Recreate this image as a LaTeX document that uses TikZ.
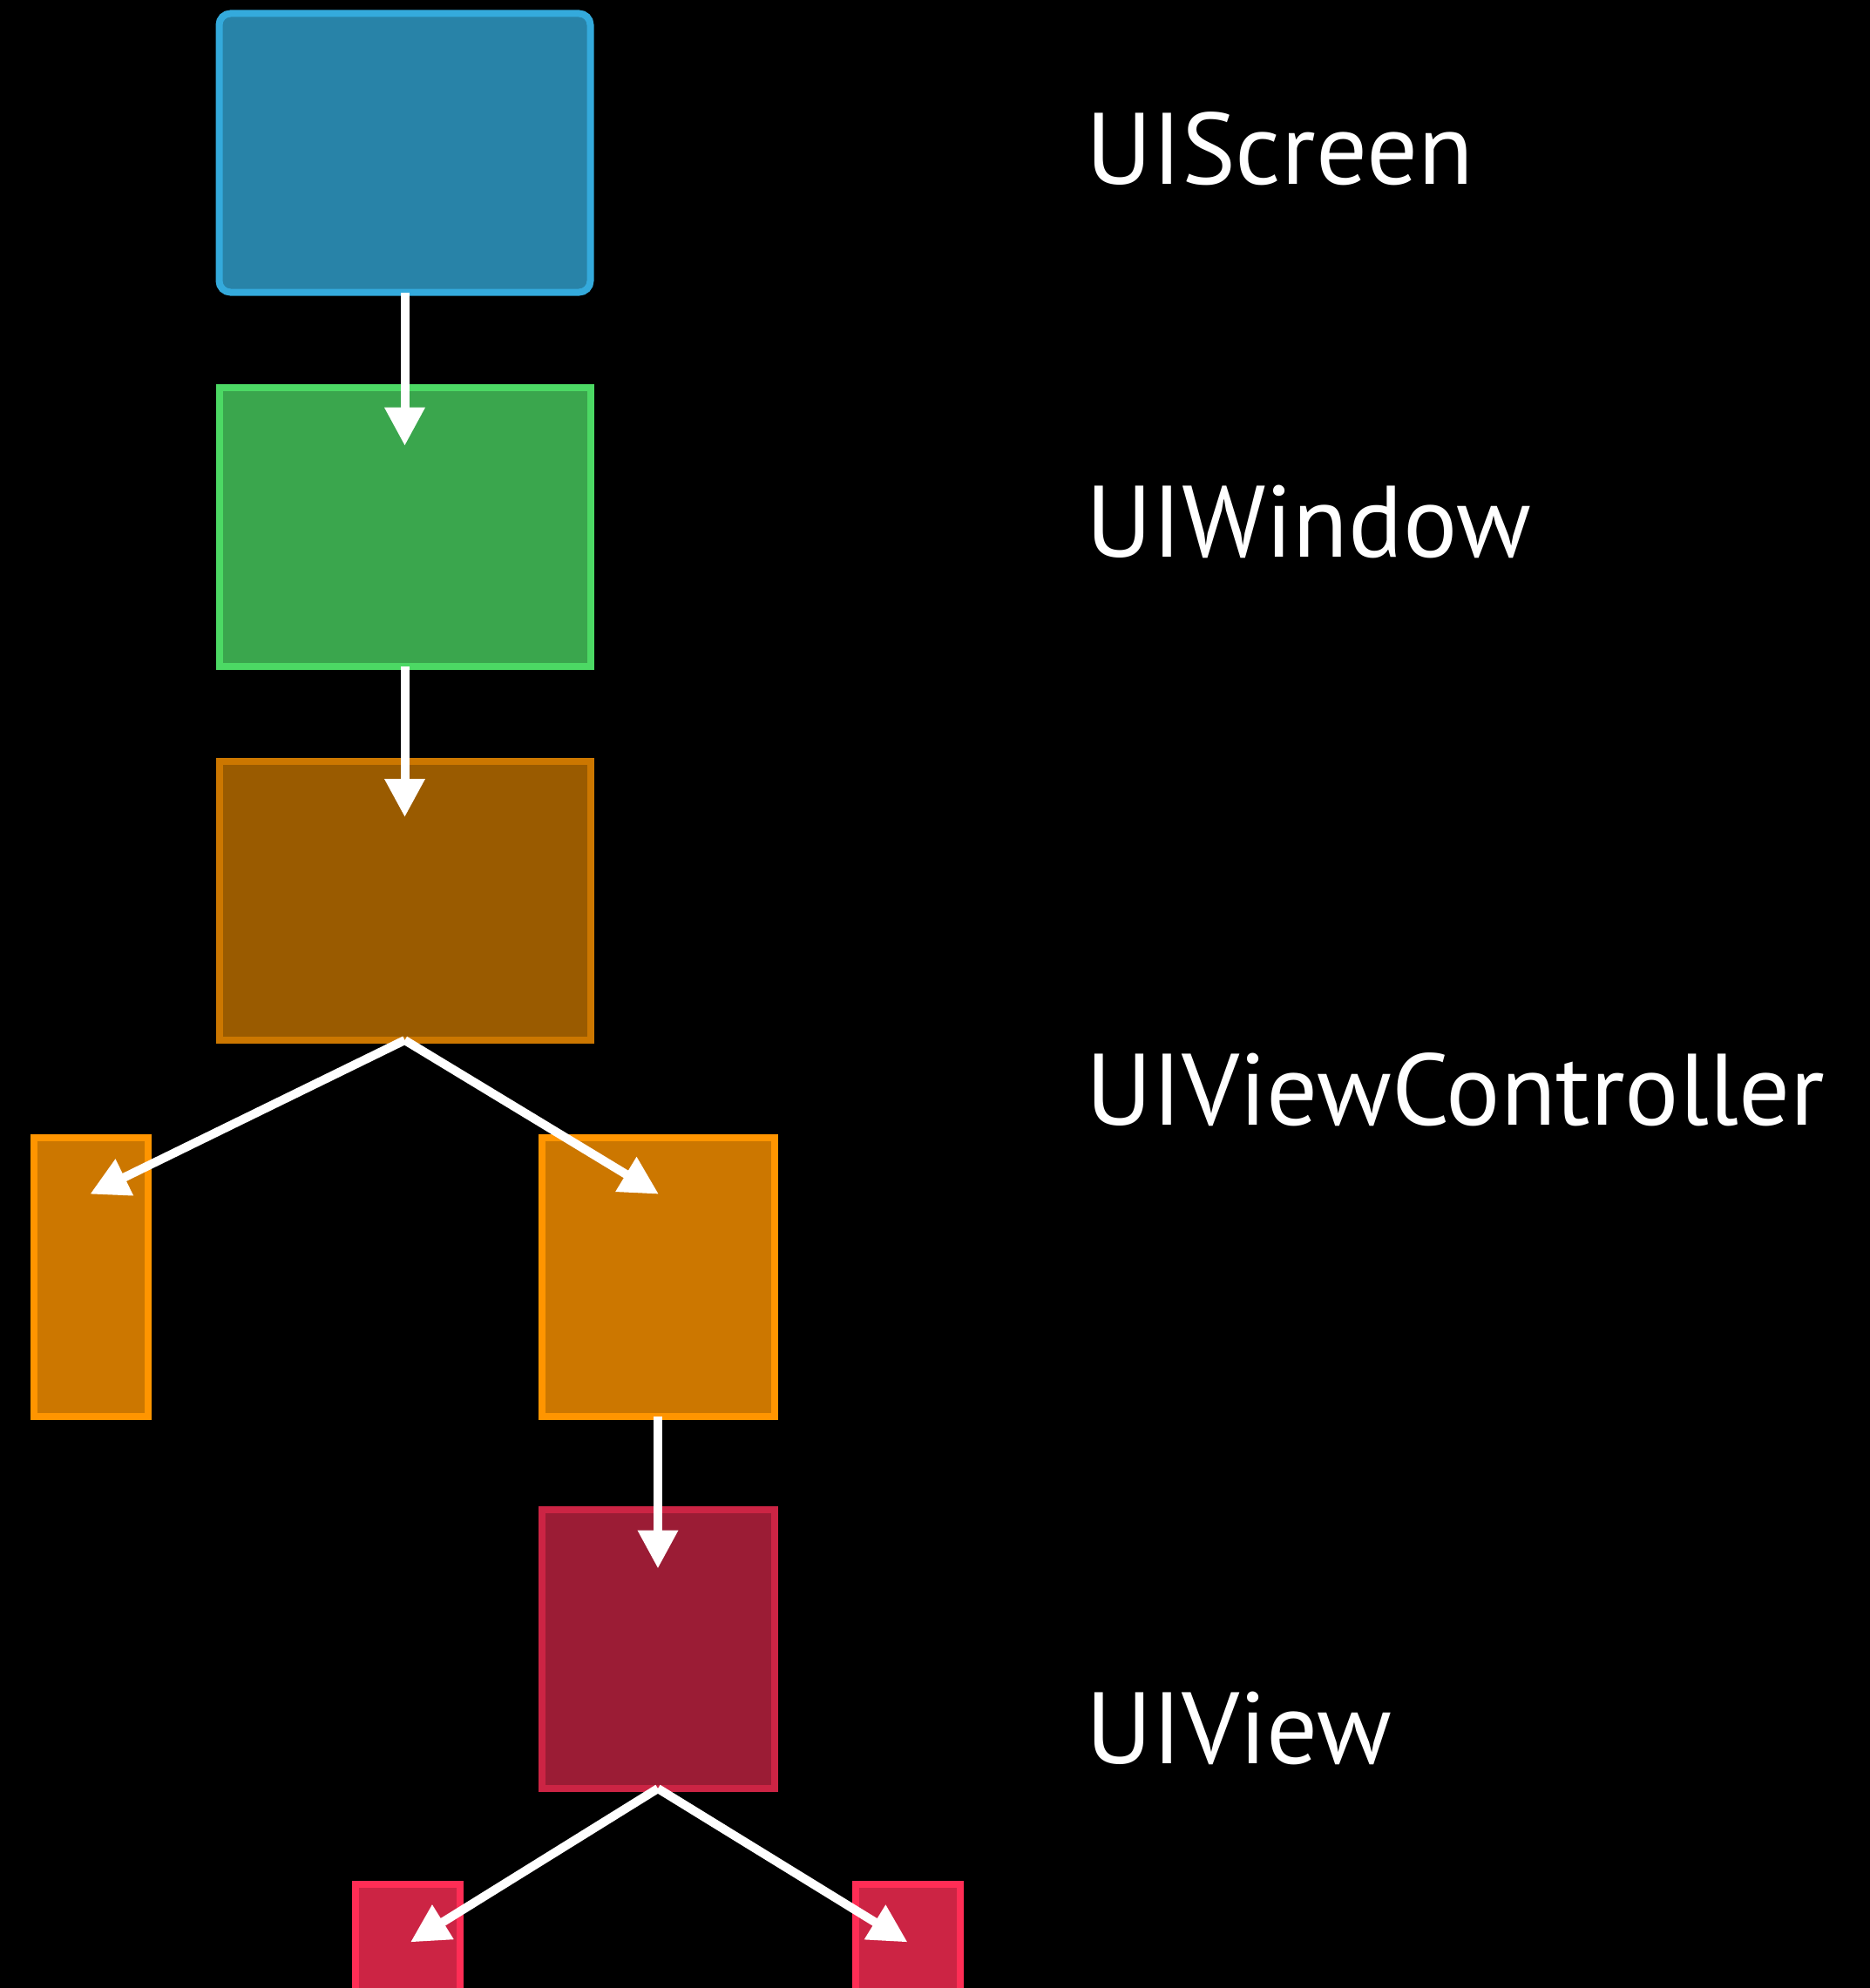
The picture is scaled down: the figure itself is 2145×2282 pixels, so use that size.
\documentclass[tikz,border=0pt]{standalone}
\usepackage{fontspec}
\setmainfont{PT Sans}
\usetikzlibrary{arrows.meta,calc}
\definecolor{screenfill}{HTML}{2883A8}
\definecolor{screenline}{HTML}{34AADC}
\definecolor{windowfill}{HTML}{3AA64D}
\definecolor{windowline}{HTML}{4CD964}
\definecolor{vcfill}{HTML}{9A5B00}
\definecolor{vcline}{HTML}{CC7700}
\definecolor{childfill}{HTML}{CC7700}
\definecolor{childline}{HTML}{FF9500}
\definecolor{viewfill}{HTML}{9B1C35}
\definecolor{viewline}{HTML}{CC2444}
\definecolor{subfill}{HTML}{CC2444}
\definecolor{subline}{HTML}{FF2D55}
\begin{document}
\begin{tikzpicture}[x=1pt,y=-1pt,
  box/.style={rectangle, line width=8pt, inner sep=0pt, outer sep=0pt},
  arr/.style={draw=white, line width=10pt, -{Triangle[length=44pt,width=44pt]}},
  lbl/.style={text=white, inner sep=0pt, anchor=base west, font=\fontsize{116.5}{140}\selectfont}]
\useasboundingbox (0,0) rectangle (2145,2282);
\fill[black] (-10,-10) rectangle (2155,2292);
\clip (0,0) rectangle (2145,2282);
% boxes
\node[box, draw=screenline, fill=screenfill, rounded corners=13pt, minimum width=426pt, minimum height=320pt] (screen) at (464.5,175.5) {};
\node[box, draw=windowline, fill=windowfill, minimum width=426pt, minimum height=320pt] (window) at (464.5,605) {};
\node[box, draw=vcline, fill=vcfill, minimum width=426pt, minimum height=320pt] (vc) at (464.5,1034) {};
\node[box, draw=childline, fill=childfill, minimum width=131pt, minimum height=320pt] (leftc) at (104.5,1466) {};
\node[box, draw=childline, fill=childfill, minimum width=267pt, minimum height=320pt] (rightc) at (755,1466) {};
\node[box, draw=viewline, fill=viewfill, minimum width=267pt, minimum height=320pt] (view) at (755,1893) {};
\node[box, draw=subline, fill=subfill, minimum width=120pt, minimum height=140pt] (subl) at (468,2232.5) {};
\node[box, draw=subline, fill=subfill, minimum width=120pt, minimum height=140pt] (subr) at (1042,2232.5) {};
% arrow tips
\coordinate (t1) at (464.5,511.7);
\coordinate (t2) at (464.5,938);
\coordinate (t3) at (103.3,1370.7);
\coordinate (t4) at (756,1370.7);
\coordinate (t5) at (755,1800.5);
\coordinate (t6) at (471,2229.4);
\coordinate (t7) at (1041.5,2229.4);
\draw[arr] (screen.south) -- (t1);
\draw[arr] (window.south) -- (t2);
\draw[arr] (vc.south) -- (t3);
\draw[arr] (vc.south) -- (t4);
\draw[arr] (rightc.south) -- (t5);
\draw[arr] (view.south) -- (t6);
\draw[arr] (view.south) -- (t7);
% labels
\node[lbl] (lscreen) at (1246,211.4) {UIScreen};
\node[lbl] (lwindow) at (1246,639.3) {UIWindow};
\node[lbl] (lvc) at (1246,1291) {UIViewController};
\node[lbl] (lview) at (1246,2024.5) {UIView};
\end{tikzpicture}
\end{document}
